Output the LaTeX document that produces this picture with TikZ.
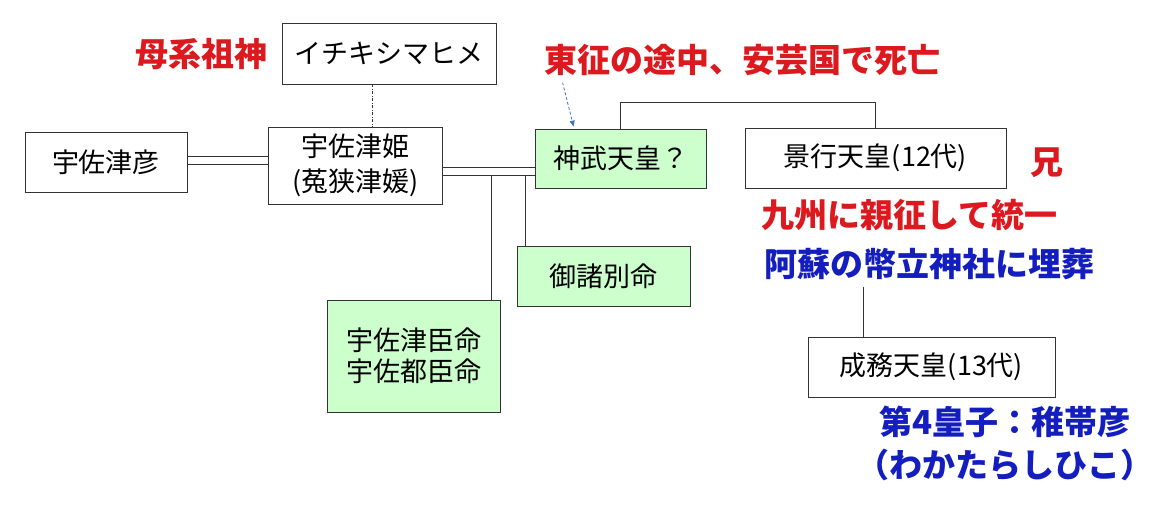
\documentclass[tikz,border=0pt]{standalone}
\usepackage{fontspec}
\setmainfont{Noto Sans CJK JP}
\usepackage{xcolor}
\usetikzlibrary{arrows.meta}
\definecolor{akared}{RGB}{220,25,30}
\definecolor{aoblue}{RGB}{20,30,190}
\definecolor{usugreen}{RGB}{204,255,204}
\definecolor{yaji}{RGB}{68,114,196}

\begin{document}
\begin{tikzpicture}[x=1pt,y=-1pt,>=Stealth,
box/.style={draw=black!80,line width=0.8pt,align=center,inner sep=0pt,font=\fontsize{27}{35}\selectfont},
midori/.style={box,fill=usugreen},
aka/.style={text=akared,inner sep=0pt,font=\bfseries\fontsize{33}{40}\selectfont},
ao/.style={text=aoblue,inner sep=0pt,align=center,font=\bfseries\fontsize{33}{43}\selectfont},
sen/.style={draw=black!80,line width=0.8pt},
tensen/.style={sen,dash pattern=on 3pt off 1.5pt on 1pt off 1.5pt},
yajirushi/.style={draw=yaji,line width=0.8pt,densely dashed,-{Triangle[length=6pt,width=5pt]}}]
\fill[white](0,0)rectangle(1160,528);
\useasboundingbox(0,0)rectangle(1160,528);
\node[box,minimum width=162,minimum height=60](hiko)at(106,162){宇佐津彦};
\node[box,minimum width=174,minimum height=77](hime)at(355.5,165.5){宇佐津姫\\(菟狭津媛)};
\node[box,minimum width=214,minimum height=61](ichi)at(389,53.5){イチキシマヒメ};
\node[midori,minimum width=171,minimum height=59](jimmu)at(620.5,158.5){神武天皇？};
\node[box,minimum width=261,minimum height=60](keiko)at(875.5,158){景行天皇(12代)};
\node[midori,minimum width=173,minimum height=60](mimoro)at(603.5,276){御諸別命};
\node[midori,minimum width=173,minimum height=112,font=\fontsize{27}{31}\selectfont](kuni)at(413.5,356){宇佐津臣命\\宇佐都臣命};
\node[box,minimum width=247,minimum height=60](seimu)at(931.5,367){成務天皇(13代)};
\node[aka](bokei)at(201.5,54){母系祖神};
\node[aka](tosei)at(742.5,60){東征の途中、安芸国で死亡};
\node[aka](ani)at(1047,163){兄};
\node[aka](kyushu)at(909,215){九州に親征して統一};
\node[text=aoblue,inner sep=0pt,font=\bfseries\fontsize{33}{40}\selectfont](aso)at(929.5,264){阿蘇の幣立神社に埋葬};
\node[ao](ouji)at(1005,443){第4皇子：稚帯彦\\（わかたらしひこ）};
\coordinate(dt)at([xshift=-17]ichi.south);
\draw[tensen](dt)--(dt|-hime.north);
\foreach \d in {-2,6}{
\draw[sen]([yshift=\d]hiko.east)--([yshift=\d+3.5]hime.west);
\draw[sen]([yshift=-\d-3.5]hime.east)--([yshift=-\d-10.5]jimmu.west);}
\coordinate(sita)at([yshift=-9.5]hime.east);
\coordinate(k1)at([xshift=77.5]kuni.north);
\coordinate(m1)at([xshift=-78]mimoro.north);
\draw[sen](k1|-sita)--(k1);
\draw[sen](m1|-sita)--(m1);
\draw[sen](jimmu.north)--++(0,-26)-|(keiko.north);
\draw[sen]([xshift=-68.5]seimu.north)--++(0,-50);
\draw[yajirushi]([xshift=28,yshift=46]jimmu.north west)--([xshift=39,yshift=2]jimmu.north west);
\end{tikzpicture}
\end{document}
